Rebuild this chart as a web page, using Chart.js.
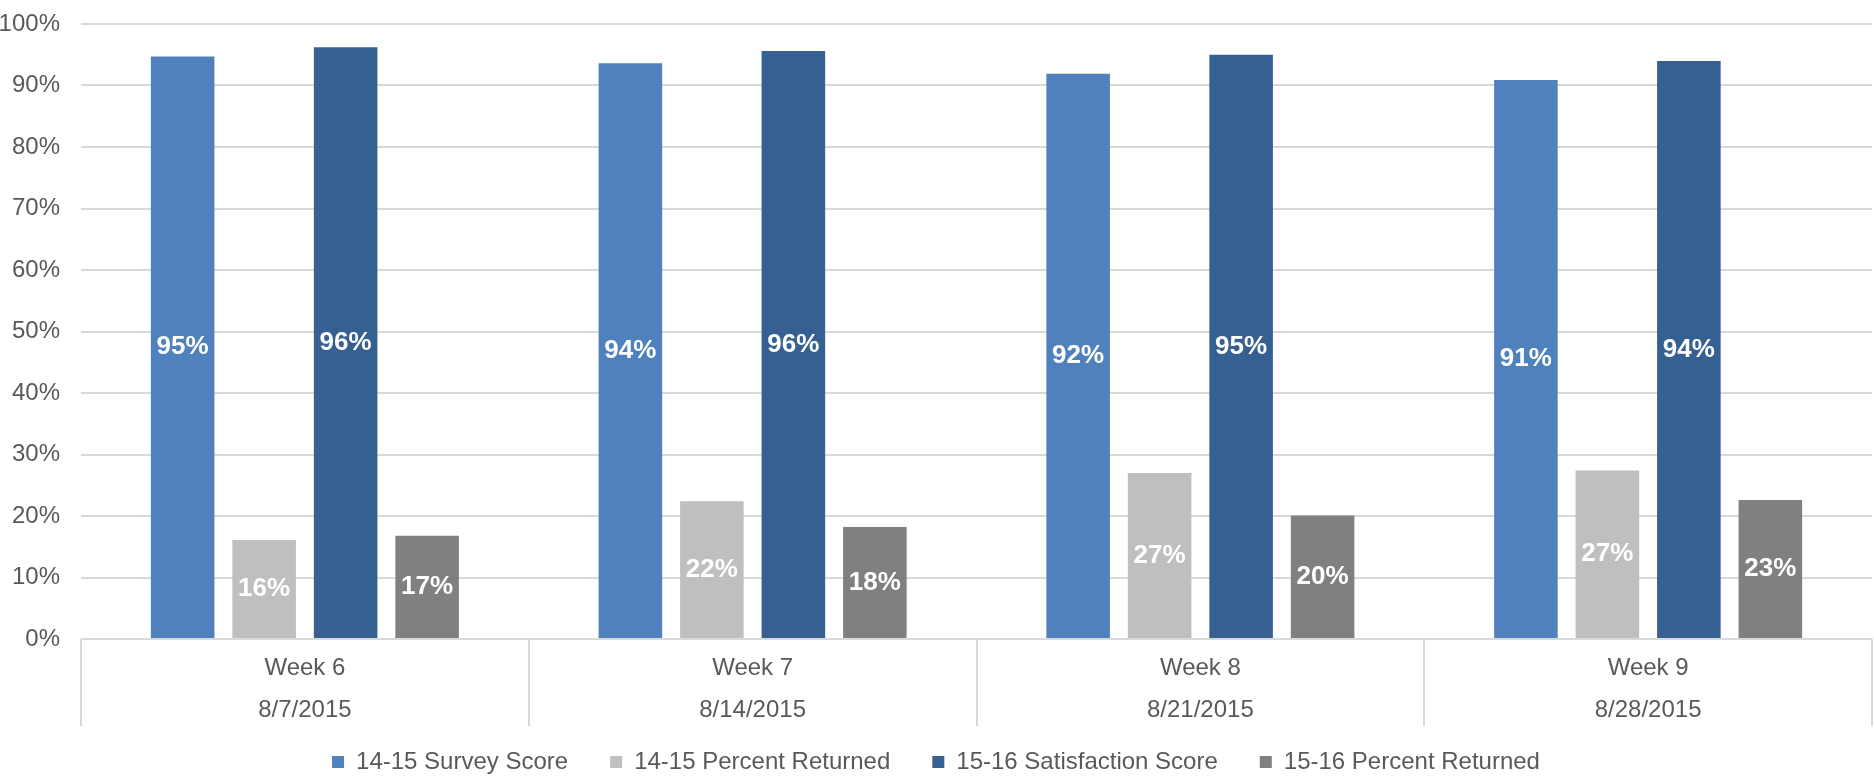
<!DOCTYPE html>
<html>
<head>
<meta charset="utf-8">
<script src="https://cdn.jsdelivr.net/npm/chart.js@4.4.1/dist/chart.umd.min.js"></script>
<style>
    html, body { margin: 0; padding: 0; background: #fff; }
    #wrap { width: 1874px; height: 779px; }
</style>
</head>
<body>
<div id="wrap"><canvas id="surveyChart"></canvas></div>
<script>
// chart data
const weeks = ['Week 6', 'Week 7', 'Week 8', 'Week 9'];
const dates = ['8/7/2015', '8/14/2015', '8/21/2015', '8/28/2015'];
const surveyScore1415 = [94.7, 93.6, 91.9, 90.9];
const percentReturned1415 = [16.1, 22.4, 27.0, 27.4];
const satisfactionScore1516 = [96.2, 95.6, 95.0, 94.0];
const percentReturned1516 = [16.8, 18.2, 20.1, 22.6];
const yMin = 0;
const yMax = 100;
const yStep = 10;

const fontFamily = '"Liberation Sans", Arial, sans-serif';
const textColor = '#595959';
const gridColor = '#d9d9d9';

// white value labels in the middle of each bar
const barLabels = {
    id: 'barLabels',
    afterDatasetsDraw(chart) {
        const ctx = chart.ctx;
        ctx.save();
        ctx.font = 'bold 26px ' + fontFamily;
        ctx.fillStyle = '#ffffff';
        ctx.textAlign = 'center';
        ctx.textBaseline = 'middle';
        chart.data.datasets.forEach(function (ds, i) {
            const meta = chart.getDatasetMeta(i);
            meta.data.forEach(function (bar, j) {
                const p = bar.getProps(['x', 'y', 'base'], true);
                ctx.fillText(Math.round(ds.data[j]) + '%', p.x, (p.y + p.base) / 2);
            });
        });
        ctx.restore();
    }
};

// vertical separators of the category boxes under the axis
const categoryBoxes = {
    id: 'categoryBoxes',
    afterDraw(chart) {
        const xs = chart.scales.x;
        const ctx = chart.ctx;
        const n = chart.data.labels.length;
        const step = xs.width / n;
        ctx.save();
        ctx.strokeStyle = gridColor;
        ctx.lineWidth = 2;
        for (let i = 0; i <= n; i++) {
            const x = Math.round(xs.left + i * step);
            ctx.beginPath();
            ctx.moveTo(x, chart.chartArea.bottom);
            ctx.lineTo(x, chart.chartArea.bottom + 87);
            ctx.stroke();
        }
        ctx.restore();
    }
};

const ctx = document.getElementById('surveyChart').getContext('2d');
const surveyChart = new Chart(ctx, {
    type: 'bar',
    data: {
        labels: weeks.map(function (w, i) { return [w, dates[i]]; }),
        datasets: [
            { label: '14-15 Survey Score', data: surveyScore1415, backgroundColor: '#4f81bd' },
            { label: '14-15 Percent Returned', data: percentReturned1415, backgroundColor: '#bfbfbf' },
            { label: '15-16 Satisfaction Score', data: satisfactionScore1516, backgroundColor: '#366092' },
            { label: '15-16 Percent Returned', data: percentReturned1516, backgroundColor: '#808080' }
        ]
    },
    options: {
        responsive: true,
        maintainAspectRatio: false,
        animation: false,
        categoryPercentage: 0.728,
        barPercentage: 0.78,
        layout: { padding: { top: 24, right: 2, left: 0, bottom: -5 } },
        scales: {
            x: {
                grid: { display: false, drawTicks: false },
                border: { display: false },
                ticks: {
                    color: textColor,
                    font: { family: fontFamily, size: 24, lineHeight: 1.75 },
                    // mirror keeps the two-line labels from being clipped to the short axis box
                    mirror: true,
                    padding: -50,
                    maxRotation: 0
                },
                afterFit: function (scale) { scale.height = 69; }
            },
            y: {
                min: yMin,
                max: yMax,
                grid: { color: gridColor, lineWidth: 2, drawTicks: false },
                border: { display: false },
                ticks: {
                    stepSize: yStep,
                    color: textColor,
                    font: { family: fontFamily, size: 24 },
                    padding: 21,
                    callback: function (v) { return v + '%'; }
                },
                afterFit: function (scale) {
                    scale.width = 81;
                    scale.paddingTop = 0;
                    scale.paddingBottom = 0;
                }
            }
        },
        plugins: {
            legend: {
                position: 'bottom',
                labels: {
                    boxWidth: 12,
                    boxHeight: 12,
                    padding: 42,
                    color: textColor,
                    font: { family: fontFamily, size: 24 }
                }
            },
            tooltip: { enabled: false }
        }
    },
    plugins: [barLabels, categoryBoxes]
});
</script>
</body>
</html>
